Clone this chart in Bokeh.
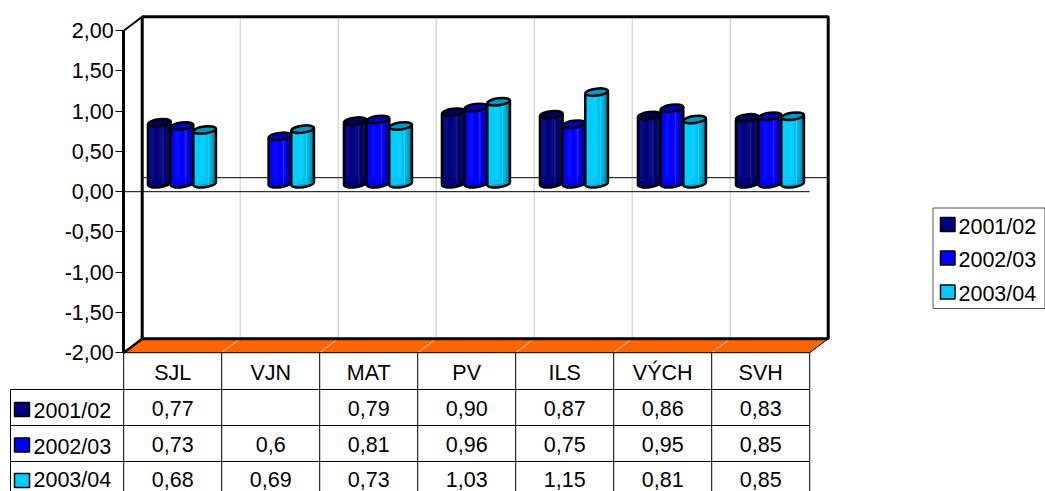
from bokeh.plotting import figure
from bokeh.models import Range1d, LinearAxis, FixedTicker
from bokeh.core.properties import value
from bokeh.embed import file_html
from bokeh.resources import INLINE

categories = ["SJL", "VJN", "MAT", "PV", "ILS", "VÝCH", "SVH"]
seasons = ["2001/02", "2002/03", "2003/04"]
s2001 = [0.77, None, 0.79, 0.90, 0.87, 0.86, 0.83]
s2002 = [0.73, 0.6, 0.81, 0.96, 0.75, 0.95, 0.85]
s2003 = [0.68, 0.69, 0.73, 1.03, 1.15, 0.81, 0.85]
table_2001 = ["0,77", "", "0,79", "0,90", "0,87", "0,86", "0,83"]
table_2002 = ["0,73", "0,6", "0,81", "0,96", "0,75", "0,95", "0,85"]
table_2003 = ["0,68", "0,69", "0,73", "1,03", "1,15", "0,81", "0,85"]
y_ticks = [-2.0, -1.5, -1.0, -0.5, 0.0, 0.5, 1.0, 1.5, 2.0]
y_labels = ["-2,00", "-1,50", "-1,00", "-0,50", "0,00", "0,50", "1,00", "1,50", "2,00"]
colors = ["#000080", "#0000FF", "#00CCFF"]
tops = ["#000060", "#0000C0", "#0099C0"]

W, H = 1045, 491
ORIGIN = 0
FONT = "Liberation Sans"
FS = "21.5px"
X0, UX = 123.2, 98.0
Y0, UY = 191.2, 80.5
DX, DY = 18.5, 14.0


def dx(px):
    return (px - X0) / UX


def dy(py):
    return (Y0 - py) / UY


p = figure(width=W, height=H, output_backend="svg", toolbar_location=None,
           x_range=Range1d(dx(ORIGIN), dx(ORIGIN + W)), y_range=Range1d(dy(ORIGIN + H), dy(ORIGIN)),
           min_border=0, min_border_left=0, min_border_right=0, min_border_top=0,
           min_border_bottom=0, outline_line_color=None, x_axis_type=None, y_axis_type=None)
p.grid.visible = False

wx, wy = DX / UX, DY / UY
n = len(categories)

# floor
p.patch([0, wx, n + wx, n], [-2, -2 + wy, -2 + wy, -2], fill_color="#FF6600", fill_alpha=1, line_color=None)

# gridlines on back wall and floor
for i in range(1, n):
    p.line([i, i + wx, i + wx], [-2, -2 + wy, 2 + wy], line_color="#C8C8C8", line_width=1)

# back zero line
p.line([wx, n + wx], [wy, wy], line_color="#000000", line_width=1)

# walls
p.line([wx, wx, n + wx, n + wx, wx, wx], [-2 + wy, 2 + wy, 2 + wy, -2 + wy, -2 + wy, 2 + wy],
       line_color="#000000", line_width=3)
p.line([0, wx], [2, 2 + wy], line_color="#000000", line_width=2)
p.line([0, wx], [-2, -2 + wy], line_color="#000000", line_width=2.5)
p.line([0, n, n + wx], [-2, -2, -2 + wy], line_color="#000000", line_width=1)

# front zero line
p.line([0, n], [0, 0], line_color="#000000", line_width=1)


def shade(col, f):
    r, g, b = int(col[1:3], 16), int(col[3:5], 16), int(col[5:7], 16)
    if f <= 1:
        return "#%02x%02x%02x" % (int(r * f), int(g * f), int(b * f))
    t = f - 1
    return "#%02x%02x%02x" % (int(r + (255 - r) * t), int(g + (255 - g) * t), int(b + (255 - b) * t))


# shading across a cylinder, left to right
STRIPS = [0.94, 0.97, 1, 1, 1, 1, 1, 1, 1, 1, 0.98, 0.96, 0.94, 1.12, 0.9, 0.86, 0.8, 0.74, 0.68, 0.62]
GROUP = 68.0 / UX
GAP = (1 - GROUP) / 2
BW = GROUP / 3
MIDX = wx / 2
MIDY = wy / 2
TILT = 3.0 / UY
EH = 7.0 / UY
EH_OFF = 1.0 / UY

for k, (series, col, top) in enumerate(zip([s2001, s2002, s2003], colors, tops)):
    for i, v in enumerate(series):
        if v is None:
            continue
        left = i + GAP + MIDX + k * BW
        right = left + BW
        base = MIDY + EH_OFF
        head = v + MIDY
        cx = (left + right) / 2
        p.ellipse([cx], [base], width=BW, height=EH, angle=0.13, fill_color=shade(col, 0.8), fill_alpha=1,
                  line_color="#000000", line_width=2.5)
        m = len(STRIPS)
        sw = BW / m
        xs, ys, fc = [], [], []
        for j, f in enumerate(STRIPS):
            a = left + j * sw
            b = a + sw + 0.002
            ta = (j / m - 0.5) * TILT
            tb = ((j + 1) / m - 0.5) * TILT
            xs.append([a, b, b, a])
            ys.append([base + ta, base + tb, head + tb, head + ta])
            fc.append(shade(col, f))
        p.patches(xs, ys, fill_color=fc, fill_alpha=1.0, line_color=fc, line_alpha=1.0, line_width=0.5)
        p.line([left, left], [base - TILT / 2, head - TILT / 2], line_color="#000000", line_width=2.5)
        p.line([right, right], [base + TILT / 2, head + TILT / 2], line_color="#000000", line_width=2.5)
        p.ellipse([cx], [head], width=BW, height=EH, angle=0.13, fill_color=top, fill_alpha=1,
                  line_color="#000000", line_width=2.5)

# value axis
yax = LinearAxis(fixed_location=0, bounds=(-2, 2), ticker=FixedTicker(ticks=y_ticks),
                 major_label_overrides=dict(zip(y_ticks, y_labels)),
                 major_label_text_font=FONT, major_label_text_font_size=FS,
                 major_label_text_color="#000000", major_tick_out=8, major_tick_in=0,
                 major_tick_line_width=1, major_tick_line_color="#000000", minor_tick_line_color=None,
                 axis_line_color="#000000", axis_line_width=3, major_label_standoff=2)
p.add_layout(yax, "left")

# category axis with the table below
cat_pos = [i + 0.5 for i in range(n)]
xax = LinearAxis(fixed_location=-2, ticker=FixedTicker(ticks=cat_pos),
                 major_label_overrides=dict(zip(cat_pos, categories)),
                 major_label_text_font=FONT, major_label_text_font_size=FS,
                 major_label_text_color="#000000", major_tick_line_color=None, minor_tick_line_color=None,
                 axis_line_color=None, major_label_standoff=2)
p.add_layout(xax, "below")

# table rules
row_y = [dy(389), dy(425), dy(461)]
tb = dy(491)
for i in range(n + 1):
    p.line([i, i], [-2, tb], line_color="#000000", line_width=1)
for r in row_y:
    p.line([dx(10), n], [r, r], line_color="#000000", line_width=1)
p.line([dx(10), dx(10)], [row_y[0], tb], line_color="#000000", line_width=1)

# table values
for rows, mid_px in zip([table_2001, table_2002, table_2003], [408, 444, 479]):
    p.text(cat_pos, [dy(mid_px)] * n, text=rows, text_font=value(FONT), text_font_size=value(FS),
           text_color="#000000", text_align="center", text_baseline="middle")

# table row headers
for s, col, sw_top, mid_px in zip(seasons, colors, [402, 437.5, 473], [410, 446, 479.5]):
    p.quad(left=[dx(14)], right=[dx(29)], top=[dy(sw_top)], bottom=[dy(sw_top + 14)], fill_color=col,
           fill_alpha=1, line_color="#000000", line_width=1.5)
    p.text([dx(33)], [dy(mid_px)], text=[s], text_font=value(FONT), text_font_size=value(FS),
           text_color="#000000", text_align="left", text_baseline="middle")

# legend
p.quad(left=[dx(932.5)], right=[dx(1044.5)], top=[dy(207.5)], bottom=[dy(308)], fill_color="#FFFFFF",
       fill_alpha=1, line_color="#555555", line_width=1)
for s, col, sw_top, mid_px in zip(seasons, colors, [217, 250.5, 284.5], [226, 259, 293]):
    p.quad(left=[dx(940)], right=[dx(954.5)], top=[dy(sw_top)], bottom=[dy(sw_top + 14)], fill_color=col,
           fill_alpha=1, line_color="#000000", line_width=1.5)
    p.text([dx(958)], [dy(mid_px)], text=[s], text_font=value(FONT), text_font_size=value(FS),
           text_color="#000000", text_align="left", text_baseline="middle")

open("out.html", "w").write(file_html(p, INLINE))
